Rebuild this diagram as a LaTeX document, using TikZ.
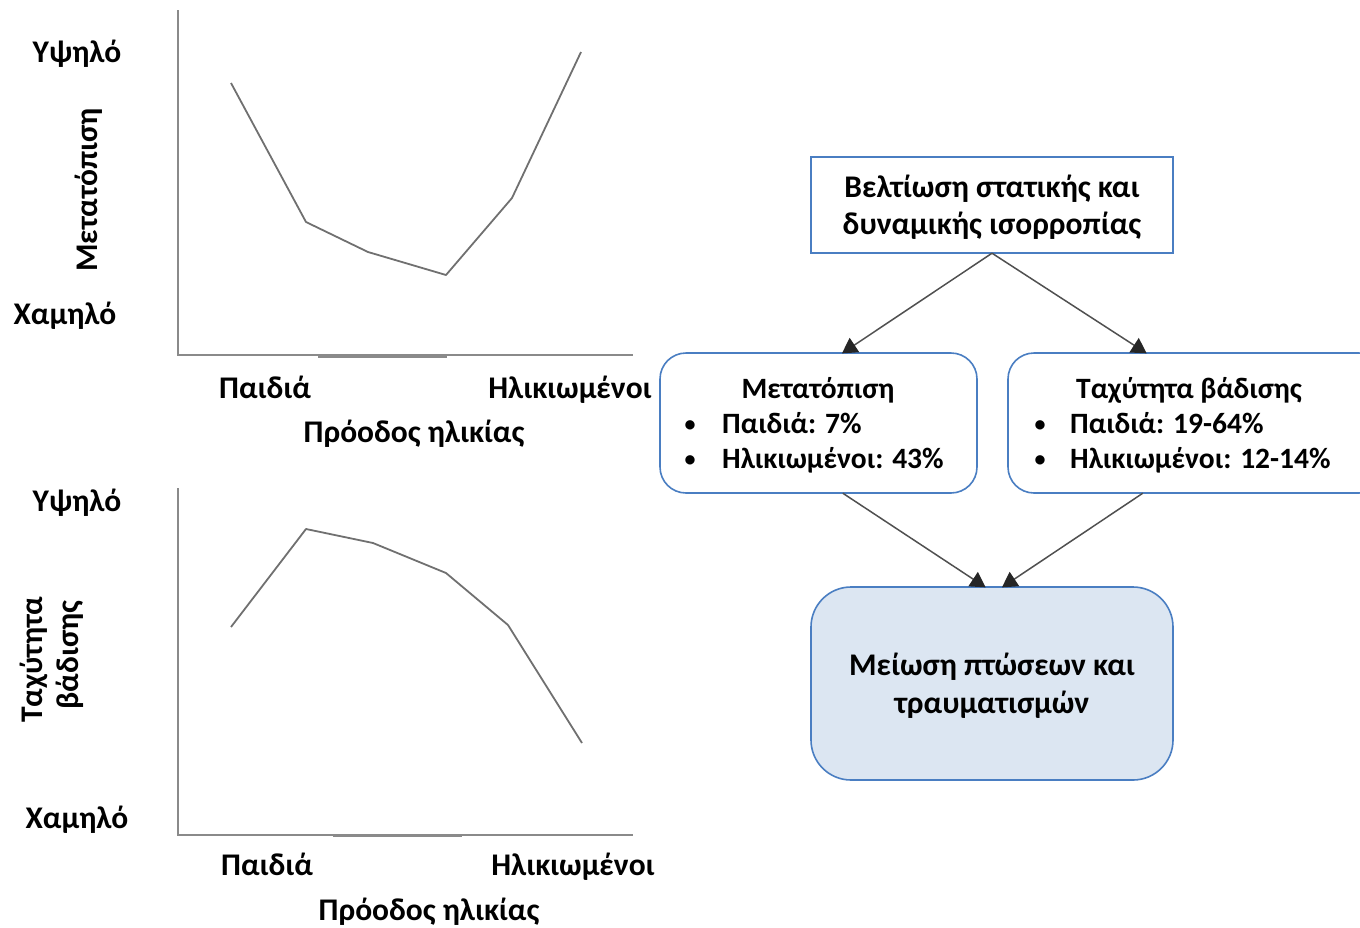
\documentclass[tikz,border=0pt]{standalone}
\usepackage{fontspec}
\setmainfont{Carlito}
\usetikzlibrary{arrows.meta,calc}
\definecolor{boxblue}{HTML}{4A7EC2}
\definecolor{boxfill}{HTML}{DCE6F2}
\definecolor{curvegray}{HTML}{707070}
\definecolor{axisgray}{HTML}{8A8A8A}
\definecolor{arrowgray}{HTML}{505050}
\tikzset{
  lbl/.style={inner sep=0pt, anchor=base, font=\fontsize{31.5}{37}\selectfont\bfseries},
  sml/.style={inner sep=0pt, anchor=base, font=\fontsize{29.5}{35}\selectfont\bfseries},
  smll/.style={sml, anchor=base west},
  bul/.style={inner sep=0pt, anchor=base, font=\fontsize{22}{26}\selectfont\bfseries},
  curve/.style={draw=curvegray, line width=1.8pt, line join=round},
  axis/.style={draw=axisgray, line width=2pt},
  sqbox/.style={draw=boxblue, line width=1.6pt, fill=white},
  rbox/.style={draw=boxblue, line width=1.6pt, fill=white, rounded corners=26pt},
  goalbox/.style={draw=boxblue, line width=1.6pt, fill=boxfill, rounded corners=40pt},
  conn/.style={draw=arrowgray, line width=1.5pt, -{Triangle[length=15pt,width=17pt,color=black!85]}, shorten >=-1pt}
}
\begin{document}
\begin{tikzpicture}[x=1pt,y=-1pt]
\useasboundingbox (0,0) rectangle (1360,927);
% ---------- top chart ----------
\draw[axis] (178,10) -- (178,355) -- (633,355);
\draw[axis] (318,357) -- (447,357);
\draw[curve] (231,83) -- (306,222) -- (368,252) -- (446,275) -- (512,198) -- (581,52);
\node[lbl] (t1) at (77,62) {Υψηλό};
\node[lbl] (t2) at (65,324) {Χαμηλό};
\node[lbl, rotate=90] (t3) at (97,190) {Μετατόπιση};
\node[lbl] (t4) at (265,398) {Παιδιά};
\node[lbl] (t5) at (570,398) {Ηλικιωμένοι};
\node[lbl] (t6) at (414,442) {Πρόοδος ηλικίας};
% ---------- bottom chart ----------
\draw[axis] (178,488) -- (178,835) -- (633,835);
\draw[axis] (333,836) -- (462,836);
\draw[curve] (231,627) -- (306,529) -- (373,543) -- (446,573) -- (508,625) -- (582,743);
\node[lbl] (b1) at (77,511) {Υψηλό};
\node[lbl] (b2) at (77,828) {Χαμηλό};
\node[lbl, rotate=90] (b3) at (42,660) {Ταχύτητα};
\node[lbl, rotate=90] (b4) at (78,655) {βάδισης};
\node[lbl] (b5) at (267,875) {Παιδιά};
\node[lbl] (b6) at (573,875) {Ηλικιωμένοι};
\node[lbl] (b7) at (429,920) {Πρόοδος ηλικίας};
% ---------- flow diagram ----------
\path[sqbox] (811,157) rectangle (1173,253);
\node[inner sep=0pt, minimum width=362pt, minimum height=96pt] (top) at (992,205) {};
\path[rbox] (660,353) rectangle (977,493);
\node[inner sep=0pt, minimum width=317pt, minimum height=140pt] (left) at (818.5,423) {};
\path[rbox] (1008,353) rectangle (1385,493);
\node[inner sep=0pt, minimum width=377pt, minimum height=140pt] (right) at (1196.5,423) {};
\path[goalbox] (811,587) rectangle (1173,780);
\node[inner sep=0pt, minimum width=362pt, minimum height=193pt] (goal) at (992,683.5) {};

\node[lbl] (tt1) at (992,197) {Βελτίωση στατικής και};
\node[lbl] (tt2) at (992,234) {δυναμικής ισορροπίας};

\node[sml] (lt) at (818,398) {Μετατόπιση};
\node[bul] (lb1) at (690,431) {•};
\node[smll] (lx1) at (722,433) {Παιδιά: 7\%};
\node[bul] (lb2) at (690,466) {•};
\node[smll] (lx2) at (722,468) {Ηλικιωμένοι: 43\%};

\node[sml] (rt) at (1189,398) {Ταχύτητα βάδισης};
\node[bul] (rb1) at (1040,431) {•};
\node[smll] (rx1) at (1070,433) {Παιδιά: 19-64\%};
\node[bul] (rb2) at (1040,466) {•};
\node[smll] (rx2) at (1070,468) {Ηλικιωμένοι: 12-14\%};

\node[lbl] (g1) at (992,675) {Μείωση πτώσεων και};
\node[lbl] (g2) at (992,713) {τραυματισμών};

\coordinate (topS) at ($(top.south)$);
\coordinate (leftN) at ($(left.north west)+(183,0)$);
\coordinate (rightN) at ($(right.north west)+(138,0)$);
\coordinate (leftS) at ($(left.south west)+(183,0)$);
\coordinate (rightS) at ($(right.south west)+(135,0)$);
\coordinate (goalNa) at ($(goal.north west)+(174,0)$);
\coordinate (goalNb) at ($(goal.north west)+(192,0)$);
\draw[conn] (topS) -- (leftN);
\draw[conn] (topS) -- (rightN);
\draw[conn] (leftS) -- (goalNa);
\draw[conn] (rightS) -- (goalNb);
\end{tikzpicture}
\end{document}
